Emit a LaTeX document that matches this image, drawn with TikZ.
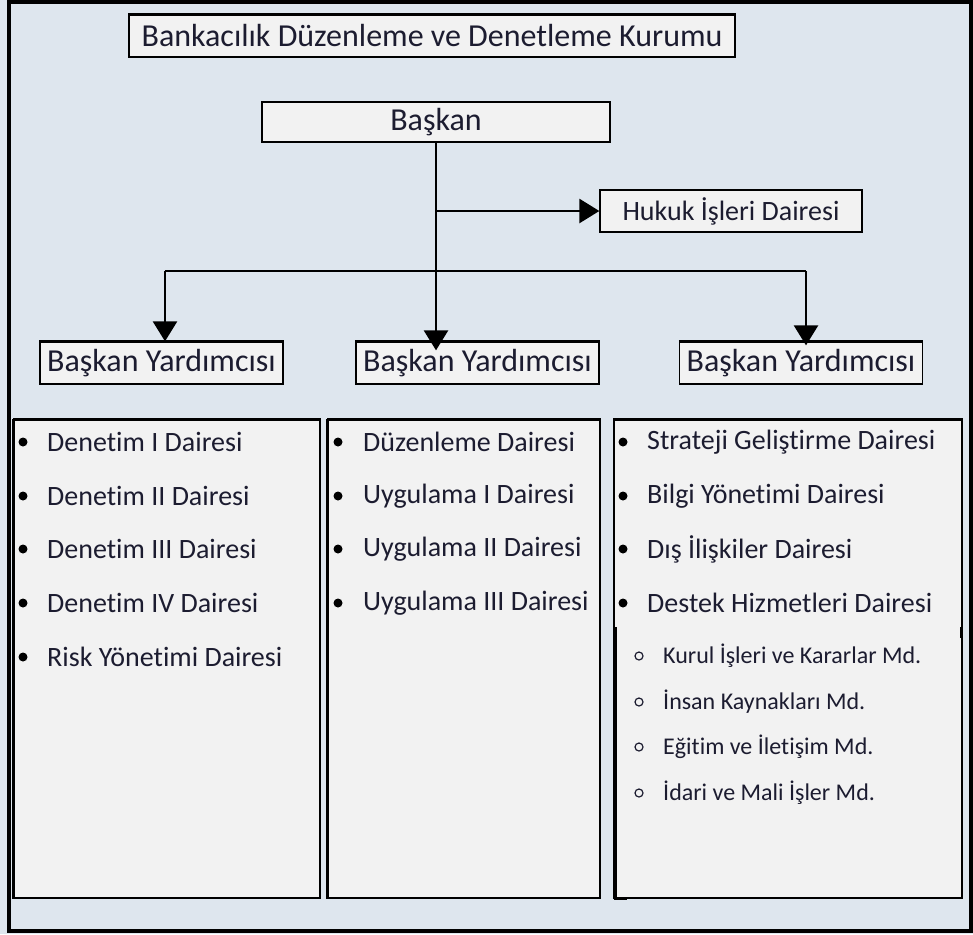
\documentclass[tikz,border=0pt]{standalone}
\usepackage{fontspec}
\setmainfont{Carlito}[Ligatures=NoCommon]
\usepackage{tikz}
\usetikzlibrary{positioning, arrows.meta, calc}
\definecolor{bgblue}{HTML}{DEE6EE}
\definecolor{boxgray}{HTML}{F2F2F2}
\definecolor{ink}{HTML}{1C1C30}
\tikzset{
  unit/.style={draw=black, line width=1.3pt, fill=boxgray, inner sep=0pt, text=ink},
  link/.style={line width=2.6pt},
  arr/.style={link, -{Triangle[length=20pt,width=24pt]}},
  item/.style={anchor=west, inner sep=0pt, text=ink, font=\fontsize{28}{32}\selectfont},
  subitem/.style={anchor=west, inner sep=0pt, text=ink, font=\fontsize{24}{28}\selectfont},
}

\begin{document}
\begin{tikzpicture}[x=1pt, y=-1pt]
    \useasboundingbox (0,0) rectangle (973,934);
    \fill[bgblue] (0,0) rectangle (973,934);
    \draw[line width=4pt] (9,2.5) rectangle (971,931);

    % TOP OF THE CHART
    \node[unit, minimum width=606pt, minimum height=42pt,
        font=\fontsize{32}{38}\selectfont] (kurum) at (432,36)
        {Bankacılık Düzenleme ve Denetleme Kurumu};
    \node[unit, minimum width=348pt, minimum height=40pt,
        font=\fontsize{32}{38}\selectfont] (baskan) at (436,122) {Başkan};
    \node[unit, minimum width=262pt, minimum height=42pt,
        font=\fontsize{28}{32}\selectfont] (hukuk) at (731,211) {Hukuk İşleri Dairesi};

    % VICE PRESIDENTS
    \foreach \x/\i in {161.5/1, 477.5/2, 801/3}
        \node[unit, minimum width=243pt, minimum height=42pt,
            font=\fontsize{32}{38}\selectfont] (yrd\i) at (\x,363) {Başkan Yardımcısı};

    % DEPARTMENT BOXES
    \foreach \x/\w/\i in {167/306/1, 464/272/2, 788/348/3}
        \node[unit, minimum width=\w pt, minimum height=478pt] (grup\i) at (\x,659) {};

    % heavier top edges
    \foreach \n in {kurum, yrd1, yrd2, yrd3, grup1, grup2, grup3}
        \draw[line width=3pt] (\n.north west) -- (\n.north east);
    \foreach \n in {grup1, grup2}
        \draw[line width=2.6pt] (\n.north west) -- (\n.south west);
    \draw[line width=3pt] (615,627) -- (615,898) -- (627,898);
    \draw[line width=3pt] (961,627) -- (961,638);

    % CONNECTORS
    \coordinate (barL) at (165,271);
    \coordinate (barR) at (806,271);
    \draw[arr] (baskan.south) -- ($(baskan.south |- yrd2.north)+(0,9)$);
    \draw[arr] (baskan.south |- hukuk.west) -- (hukuk.west);
    \draw[link] (barL) -- (barR);
    \draw[arr] (barL) -- (barL |- yrd1.north);
    \draw[arr] (barR) -- ($(barR |- yrd3.north)+(0,4)$);

    % LEFT LIST
    \foreach \y/\m [count=\i] in {
        442/{Denetim I Dairesi},
        496/{Denetim II Dairesi},
        549/{Denetim III Dairesi},
        603/{Denetim IV Dairesi},
        657/{Risk Yönetimi Dairesi}}
        {\fill (23,\y) circle (4.5pt);
         \node[item] (sol\i) at (47,\y) {\m};}

    % MIDDLE LIST
    \foreach \y/\m [count=\i] in {
        442/{Düzenleme Dairesi},
        496/{Uygulama I Dairesi},
        549/{Uygulama II Dairesi},
        603/{Uygulama III Dairesi}}
        {\fill (338,\y) circle (4.5pt);
         \node[item] (orta\i) at (363,\y) {\m};}

    % RIGHT LIST
    \foreach \y/\m [count=\i] in {
        442/{Strateji Geliştirme Dairesi},
        496/{Bilgi Yönetimi Dairesi},
        549/{Dış İlişkiler Dairesi},
        603/{Destek Hizmetleri Dairesi}}
        {\fill (623,\y) circle (4.5pt);
         \node[item] (sag\i) at (647,\y) {\m};}

    \foreach \y/\m [count=\i] in {
        656/{Kurul İşleri ve Kararlar Md.},
        702/{İnsan Kaynakları Md.},
        747/{Eğitim ve İletişim Md.},
        793/{İdari ve Mali İşler Md.}}
        {\draw[line width=1.2pt, ink] (639,\y) circle (4pt);
         \node[subitem] (alt\i) at (663,\y) {\m};}
\end{tikzpicture}
\end{document}
